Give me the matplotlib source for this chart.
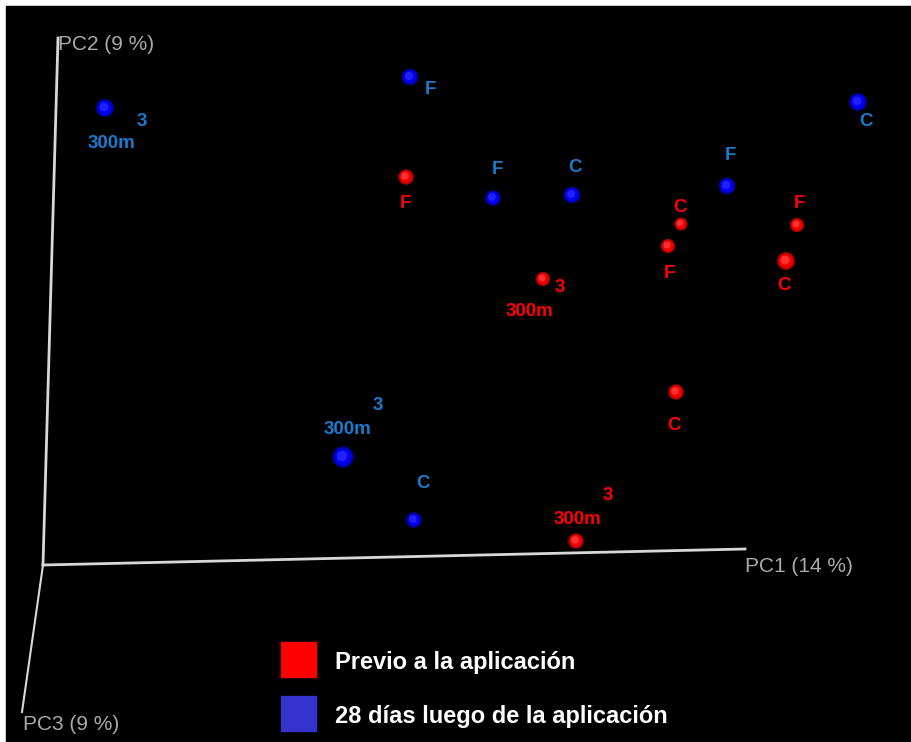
import matplotlib
matplotlib.use("Agg")
import matplotlib.pyplot as plt
from matplotlib.patches import Rectangle

# screen positions of the ordination points (projected view), pixels
pre_x = [406, 543, 681, 668, 797, 786, 676, 576]
pre_y = [177, 279, 224, 246, 225, 261, 392, 541]
pre_size = [13, 12, 11, 12, 12, 15, 13, 13]
pre_lab = ["F", "3\n300m", "C", "F", "F", "C", "C", "3\n300m"]
pre_lab_x = [405, 530, 680, 669, 799, 784, 674, 578]
pre_lab_y = [203, 300, 207, 273, 203, 285, 425, 508]

post_x = [105, 410, 493, 572, 727, 858, 343, 414]
post_y = [108, 77, 198, 195, 186, 102, 457, 520]
post_size = [15, 14, 13, 14, 14, 15, 18, 13]
post_lab = ["3\n300m", "F", "F", "C", "F", "C", "3\n300m", "C"]
post_lab_x = [112, 430, 497, 575, 730, 866, 348, 423]
post_lab_y = [133, 89, 169, 167, 155, 121, 418, 483]

legend_names = ["Previo a la aplicación", "28 días luego de la aplicación"]
legend_colors = ["#ff0000", "#3333cc"]

fig = plt.figure(figsize=(9.11, 7.42), dpi=100)
fig.patch.set_facecolor("white")
ax = fig.add_axes([0, 0, 1, 1])
ax.set_xlim(0, 911)
ax.set_ylim(742, 0)
ax.axis("off")
ax.add_patch(Rectangle((6, 6), 905, 736, color="black", zorder=0))

# axes of the 3d view
axis_col = "#d8d8d8"
ax.plot([43, 745], [565, 549], color=axis_col, lw=2)
ax.plot([43, 58], [565, 38], color=axis_col, lw=2)
ax.plot([43, 22], [565, 712], color=axis_col, lw=1.5)
ax.text(745, 567, "PC1 (14 %)", color="#aaaaaa", fontsize=15, va="center", family="Liberation Sans")
ax.text(58, 45, "PC2 (9 %)", color="#aaaaaa", fontsize=15, va="center", family="Liberation Sans")
ax.text(23, 725, "PC3 (9 %)", color="#aaaaaa", fontsize=15, va="center", family="Liberation Sans")


def draw_points(xs, ys, sizes, dark, mid, light):
    # three layers to fake the sphere shading
    s = [(d * 0.85) ** 2 for d in sizes]
    ax.scatter(xs, ys, s=s, color=dark, edgecolors="none", zorder=3)
    ax.scatter(xs, ys, s=[v * 0.6 for v in s], color=mid, edgecolors="none", zorder=4)
    ax.scatter([x - 1 for x in xs], [y - 1 for y in ys], s=[v * 0.25 for v in s], color=light,
               edgecolors="none", zorder=5)


draw_points(pre_x, pre_y, pre_size, "#b00000", "#f00000", "#ff3030")
draw_points(post_x, post_y, post_size, "#0000a8", "#0000ee", "#2020ff")


def draw_labels(lx, ly, labs, col):
    for x, y, t in zip(lx, ly, labs):
        if "\n" in t:
            top, bottom = t.split("\n")
            ax.text(x + 30, y - 12, top, color=col, fontsize=13.5, fontweight="bold",
                    ha="center", va="center", family="Liberation Sans")
            ax.text(x, y + 11, bottom, color=col, fontsize=13.5, fontweight="bold",
                    ha="center", va="center", family="Liberation Sans")
        else:
            ax.text(x, y, t, color=col, fontsize=13.5, fontweight="bold",
                    ha="center", va="center", family="Liberation Sans")


draw_labels(pre_lab_x, pre_lab_y, pre_lab, "#ff0000")
draw_labels(post_lab_x, post_lab_y, post_lab, "#1a7acc")

# legend
for i, (name, col) in enumerate(zip(legend_names, legend_colors)):
    y0 = 642 + i * 54
    ax.add_patch(Rectangle((281, y0), 35, 35, color=col, zorder=2))
    ax.text(335, y0 + 21, name, color="white", fontsize=17, fontweight="bold",
            va="center", family="Liberation Sans")

fig.savefig("out.png", dpi=100, facecolor=fig.get_facecolor())
